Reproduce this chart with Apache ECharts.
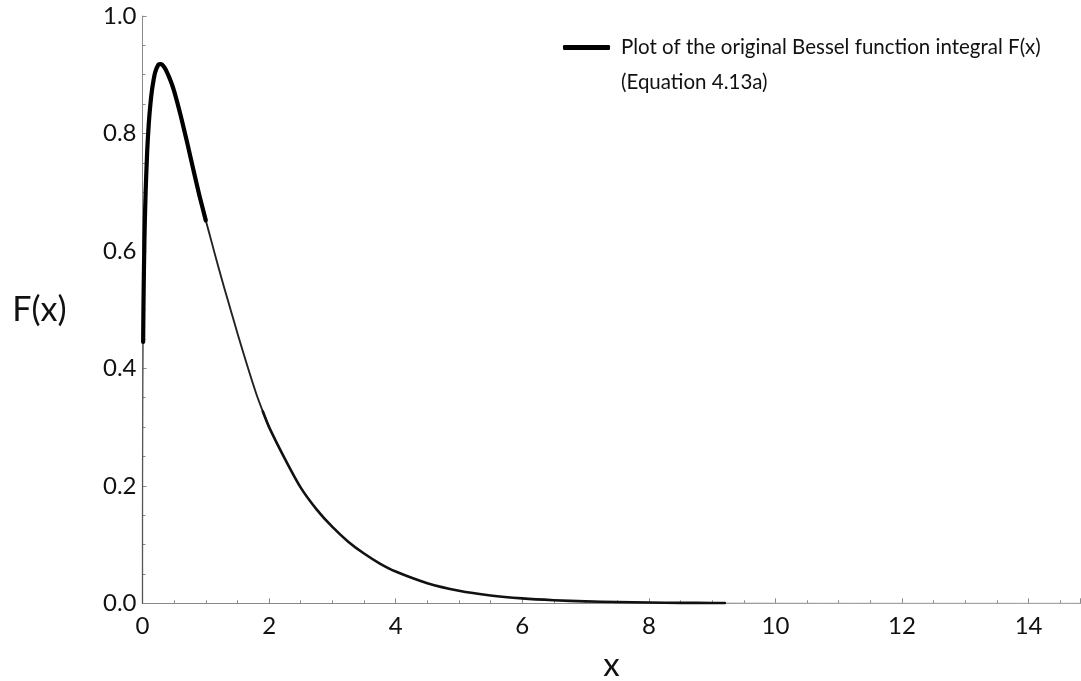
<!DOCTYPE html>
<html>
<head>
<meta charset="utf-8">
<script src="https://cdn.jsdelivr.net/npm/echarts@6/dist/echarts.min.js"></script>
<style>
  html, body { margin: 0; padding: 0; background: #fff; }
  #chart { width: 1081px; height: 681px; }
</style>
</head>
<body>
<div id="chart"></div>
<script>
// F(x) sampled along the curve, split into the stretches drawn with different strokes
const nearZeroX = [0, 0.0002, 0.001, 0.003, 0.006, 0.01];
const nearZeroY = [0, 0.125, 0.213, 0.306, 0.381, 0.445];

const peakX = [0.01, 0.015, 0.02, 0.025, 0.035, 0.05, 0.075, 0.1, 0.125, 0.15, 0.175, 0.2, 0.25, 0.29, 0.35, 0.4, 0.45, 0.5, 0.6, 0.7, 0.8, 0.9, 1.0];
const peakY = [0.445, 0.503, 0.547, 0.583, 0.642, 0.702, 0.772, 0.818, 0.850, 0.874, 0.891, 0.904, 0.917, 0.918, 0.912, 0.901, 0.888, 0.872, 0.832, 0.787, 0.740, 0.694, 0.652];

const fallX = [1.0, 1.1, 1.2, 1.3, 1.4, 1.5, 1.6, 1.7, 1.8, 1.9, 2.0];
const fallY = [0.652, 0.612, 0.572, 0.534, 0.497, 0.460, 0.424, 0.389, 0.356, 0.327, 0.300];

const tailX = [1.9, 2.0, 2.25, 2.5, 2.75, 3.0, 3.25, 3.5, 3.75, 4.0, 4.5, 5.0, 5.5, 6.0, 6.5, 7.0, 7.5, 8.0, 8.5, 9.0, 9.2];
const tailY = [0.327, 0.300, 0.246, 0.197, 0.160, 0.130, 0.105, 0.0847, 0.0677, 0.0541, 0.0343, 0.0214, 0.0134, 0.0084, 0.0053, 0.0033, 0.0021, 0.0013, 0.0008, 0.0005, 0.0004];

const farX = [9.2, 10, 11, 12, 13, 14, 14.82];
const farY = [0.0004, 0.0002, 0.00007, 0.00003, 0.00001, 0.000004, 0.000002];

const xTickLabels = ['0', '2', '4', '6', '8', '10', '12', '14'];
const yTickLabels = ['0.0', '0.2', '0.4', '0.6', '0.8', '1.0'];

const seriesName = 'Plot of the original Bessel function integral F(x)';
const noteLine = '(Equation 4.13a)';

const pairs = (xs, ys) => xs.map((x, i) => [x, ys[i]]);

const FONT = 'Lato';
const axisGray = '#8a8a8a';

const chart = echarts.init(document.getElementById('chart'), null, { renderer: 'canvas' });

function segment(name, xs, ys, width, color, z) {
  return {
    name: name,
    type: 'line',
    data: pairs(xs, ys),
    showSymbol: false,
    smooth: 0.25,
    clip: false,
    z: z,
    lineStyle: { width: width, color: color, cap: 'round', join: 'round' },
    itemStyle: { color: color },
    emphasis: { disabled: true }
  };
}

chart.setOption({
  animation: false,
  backgroundColor: '#ffffff',
  grid: { left: 142.5, right: 0.5, top: 16, bottom: 77.7, outerBoundsMode: 'none', containLabel: false },
  legend: {
    data: [seriesName],
    left: 563,
    top: 37,
    padding: 0,
    icon: 'roundRect',
    itemWidth: 47,
    itemHeight: 5,
    selectedMode: false,
    textStyle: { fontFamily: FONT, fontSize: 20.5, color: '#111', padding: [0, 0, 0, 6] }
  },
  graphic: [{
    type: 'text',
    left: 621,
    top: 72,
    style: { text: noteLine, fontFamily: FONT, fontSize: 20.5, fill: '#111' }
  }],
  xAxis: {
    type: 'value',
    min: 0,
    max: 14.82,
    interval: 2,
    name: 'x',
    nameLocation: 'middle',
    nameGap: 46,
    nameTextStyle: { fontFamily: FONT, fontSize: 33, color: '#111' },
    axisLine: { show: true, onZero: false, lineStyle: { color: axisGray, width: 1 } },
    axisTick: { show: true, inside: true, length: 5, lineStyle: { color: axisGray } },
    minorTick: { show: true, splitNumber: 4, length: 3, lineStyle: { color: axisGray } },
    splitLine: { show: false },
    axisLabel: {
      margin: 11,
      fontFamily: FONT,
      fontSize: 24,
      color: '#111',
      showMaxLabel: false,
      formatter: function (v) {
        const i = Math.round(v / 2);
        return Math.abs(v - i * 2) < 1e-6 && xTickLabels[i] !== undefined ? xTickLabels[i] : '';
      }
    }
  },
  yAxis: {
    type: 'value',
    min: 0,
    max: 1,
    interval: 0.2,
    name: 'F(x)',
    nameLocation: 'middle',
    nameRotate: 0,
    nameGap: 76,
    nameTextStyle: { fontFamily: FONT, fontSize: 34, color: '#111' },
    axisLine: { show: true, onZero: false, lineStyle: { color: axisGray, width: 1 } },
    axisTick: { show: true, inside: true, length: 4, lineStyle: { color: axisGray } },
    minorTick: { show: true, splitNumber: 4, length: 3, lineStyle: { color: axisGray } },
    splitLine: { show: false },
    axisLabel: {
      margin: 6,
      fontFamily: FONT,
      fontSize: 24,
      color: '#111',
      formatter: function (v) {
        const i = Math.round(v / 0.2);
        return yTickLabels[i] !== undefined ? yTickLabels[i] : '';
      }
    }
  },
  series: [
    segment('near zero', nearZeroX, nearZeroY, 1.3, '#555', 3),
    segment(seriesName, peakX, peakY, 4.2, '#000', 5),
    segment('fall', fallX, fallY, 1.9, '#222', 4),
    segment('tail', tailX, tailY, 2.6, '#111', 4),
    segment('far tail', farX, farY, 1, '#aaa', 3)
  ]
});
</script>
</body>
</html>
